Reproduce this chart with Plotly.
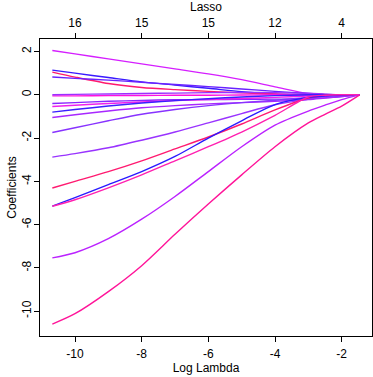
import plotly.graph_objects as go

# Log lambda grid
log_lambda = [-10.68, -10, -9, -8, -7, -6, -5, -4, -3, -2.5, -2, -1.46]

# Coefficient paths
coef_a = [2.05, 1.89, 1.66, 1.43, 1.20, 0.97, 0.70, 0.37, 0.05, 0, 0, 0]
coef_b = [1.14, 1.00, 0.80, 0.60, 0.45, 0.30, 0.14, 0.03, 0, 0, 0, 0]
coef_c = [1.05, 0.82, 0.52, 0.34, 0.24, 0.16, 0.09, 0.04, 0, 0, 0, 0]
coef_d = [0.82, 0.76, 0.68, 0.58, 0.48, 0.38, 0.27, 0.16, 0.06, 0.02, 0, 0]
coef_e = [-0.05, -0.05, -0.04, -0.03, -0.02, -0.02, -0.01, 0, 0, 0, 0, 0]
coef_f = [0.0, 0.02, 0.04, 0.06, 0.08, 0.10, 0.11, 0.10, 0.07, 0.03, 0, 0]
coef_g = [-0.40, -0.36, -0.30, -0.26, -0.23, -0.22, -0.21, -0.20, -0.18, -0.14, -0.08, 0]
coef_h = [-0.54, -0.48, -0.40, -0.33, -0.27, -0.22, -0.17, -0.12, -0.06, -0.03, 0, 0]
coef_i = [-0.80, -0.68, -0.52, -0.38, -0.27, -0.18, -0.10, -0.04, 0, 0, 0, 0]
coef_j = [-1.05, -0.92, -0.75, -0.60, -0.50, -0.42, -0.36, -0.30, -0.22, -0.15, -0.08, 0]
coef_p1 = [-1.74, -1.52, -1.20, -0.90, -0.68, -0.50, -0.36, -0.25, -0.12, -0.05, 0, 0]
coef_p2 = [-2.88, -2.72, -2.45, -2.10, -1.72, -1.30, -0.87, -0.46, -0.20, -0.08, 0, 0]
coef_r4 = [-4.31, -4.00, -3.55, -3.05, -2.50, -1.95, -1.35, -0.70, -0.15, -0.03, 0, 0]
coef_b5 = [-5.15, -4.75, -4.15, -3.55, -2.85, -2.00, -1.20, -0.45, -0.12, -0.05, -0.02, 0]
coef_m5 = [-5.15, -4.85, -4.30, -3.70, -3.05, -2.40, -1.72, -0.95, -0.10, -0.02, 0, 0]
coef_p7 = [-7.54, -7.30, -6.65, -5.75, -4.70, -3.55, -2.40, -1.40, -0.75, -0.48, -0.22, 0]
coef_m10 = [-10.60, -10.12, -9.10, -7.90, -6.45, -5.05, -3.70, -2.40, -1.30, -0.90, -0.52, 0]

series = [coef_a, coef_b, coef_c, coef_d, coef_e, coef_f, coef_g, coef_h, coef_i,
          coef_j, coef_p1, coef_p2, coef_r4, coef_b5, coef_m5, coef_p7, coef_m10]
colors = ["#D51FFF", "#3A1AFF", "#FF1A6E", "#6A22FF", "#FF10E0", "#9A30FF", "#8A25FF",
          "#EE20EE", "#3A20FF", "#A828FF", "#8833FF", "#9933FF", "#FF1A70", "#2A1AFF",
          "#FF20B0", "#BB22FF", "#FF1499"]

x_ticks = [-10, -8, -6, -4, -2]
x_ticktext = ["-10", "-8", "-6", "-4", "-2"]
top_ticktext = ["16", "15", "15", "12", "4"]
y_ticks = [-10, -8, -6, -4, -2, 0, 2]
y_ticktext = ["-10", "-8", "-6", "-4", "-2", "0", "2"]

fig = go.Figure()
for vals, col in zip(series, colors):
    fig.add_trace(go.Scatter(x=log_lambda, y=vals, mode="lines",
                             line=dict(color=col, width=1.4, shape="spline", smoothing=0.8),
                             showlegend=False, hoverinfo="skip"))
# invisible trace for top axis
fig.add_trace(go.Scatter(x=[log_lambda[0]], y=[0], xaxis="x2", mode="markers",
                         marker=dict(opacity=0), showlegend=False, hoverinfo="skip"))

font = dict(family="Liberation Sans, Arial, sans-serif", size=12, color="black")
axis_common = dict(showgrid=False, zeroline=False, showline=True, linecolor="black",
                   linewidth=1, ticks="outside", ticklen=5, tickcolor="black",
                   tickfont=font, automargin=False)
fig.update_layout(
    width=373, height=377,
    margin=dict(l=40, r=1, t=39, b=41, pad=0),
    paper_bgcolor="white", plot_bgcolor="white",
    font=font,
    xaxis=dict(range=[-11.05, -1.09], tickvals=x_ticks, ticktext=x_ticktext,
               mirror=True, ticklabelstandoff=2,
               title=dict(text="Log Lambda", font=font, standoff=2),
               **axis_common),
    xaxis2=dict(range=[-11.05, -1.09], overlaying="x", side="top", tickvals=x_ticks,
                ticktext=top_ticktext, ticklabelstandoff=1,
                title=dict(text="Lasso", font=font, standoff=2),
                **axis_common),
    yaxis=dict(range=[-11.15, 2.58], tickvals=y_ticks, ticktext=y_ticktext,
               tickangle=-90, mirror=True, ticklabelstandoff=-2,
               title=dict(text="Coefficients", font=font, standoff=1),
               **axis_common),
)
fig.write_html("out.html", config={"displayModeBar": False},
               post_script="document.body.style.margin='0';document.body.style.overflow='hidden';")
